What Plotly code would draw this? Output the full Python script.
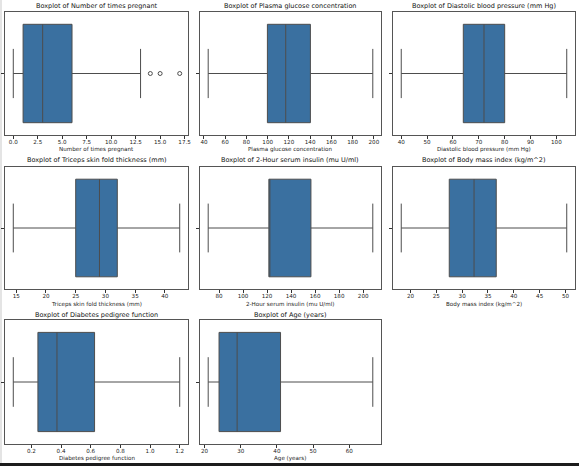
import plotly.graph_objects as go

# ---- data ----
titles = ["Number of times pregnant", "Plasma glucose concentration",
          "Diastolic blood pressure (mm Hg)", "Triceps skin fold thickness (mm)",
          "2-Hour serum insulin (mu U/ml)", "Body mass index (kg/m^2)",
          "Diabetes pedigree function", "Age (years)"]
lower_whisker = [0, 44, 40, 14.5, 71, 18.2, 0.078, 21]
q1_vals = [1, 99.75, 64, 25, 121.5, 27.5, 0.244, 24]
median_vals = [3, 117, 72, 29, 121.5, 32.3, 0.3725, 29]
q3_vals = [6, 140.25, 80, 32, 156.5, 36.6, 0.626, 41]
upper_whisker = [13, 199, 104, 42.5, 208, 50.25, 1.2, 66.5]
pregnant_outliers = [14, 15, 17]
tick_steps = [2.5, 20, 10, 5, 20, 5, 0.2, 10]
tick_formats = [".1f", "d", "d", "d", "d", "d", ".1f", "d"]

W, H = 582, 466
cols_px = [(5, 189), (201, 383), (395, 578)]
rows_px = [(12, 135), (167, 289), (320, 444)]
title_y = [6, 160, 315]
xlabel_y = [149, 304, 458]

FONT = "DejaVu Sans"
box_fill = "#3a70a0"
line_col = "#4d4d4d"

fig = go.Figure()
layout = dict(width=W, height=H, margin=dict(l=0, r=0, t=0, b=0),
              paper_bgcolor="white", plot_bgcolor="white", showlegend=False,
              font=dict(family=FONT, size=6, color="#222"))
annotations = []

for i, name in enumerate(titles):
    r, c = divmod(i, 3)
    x0, x1 = cols_px[c]
    y0, y1 = rows_px[r]
    sfx = "" if i == 0 else str(i + 1)
    xa, ya = "x" + sfx, "y" + sfx

    fig.add_trace(go.Box(
        y=[0], q1=[q1_vals[i]], median=[median_vals[i]], q3=[q3_vals[i]],
        lowerfence=[lower_whisker[i]], upperfence=[upper_whisker[i]],
        orientation="h", width=0.8, whiskerwidth=0.5, boxpoints=False,
        fillcolor=box_fill, line=dict(color=line_col, width=1),
        xaxis=xa, yaxis=ya, hoverinfo="skip"))

    lo = lower_whisker[i]
    hi = upper_whisker[i]
    if i == 0:
        fig.add_trace(go.Scatter(
            x=pregnant_outliers, y=[0] * len(pregnant_outliers), mode="markers",
            marker=dict(symbol="circle-open", size=4, color=line_col,
                        line=dict(width=1, color=line_col)),
            xaxis=xa, yaxis=ya, hoverinfo="skip"))
        hi = max(hi, max(pregnant_outliers))
    pad = (hi - lo) * 0.05

    layout["xaxis" + sfx] = dict(
        domain=[x0 / W, x1 / W], anchor=ya, range=[lo - pad, hi + pad],
        dtick=tick_steps[i], tick0=0, tickformat=tick_formats[i],
        ticks="outside", ticklen=3, tickwidth=0.8, tickcolor="#333",
        ticklabelstandoff=-2,
        showline=True, linecolor="#555", linewidth=1, mirror=True,
        showgrid=False, zeroline=False,
        tickfont=dict(family=FONT, size=5.6, color="#222"))
    layout["yaxis" + sfx] = dict(
        domain=[1 - y1 / H, 1 - y0 / H], anchor=xa, range=[0.5, -0.5],
        tickvals=[0], ticktext=[""], ticks="outside", ticklen=3,
        tickwidth=0.8, tickcolor="#333",
        showline=True, linecolor="#555", linewidth=1, mirror=True,
        showgrid=False, zeroline=False)

    cx = (x0 + x1) / 2 / W
    annotations.append(dict(text="Boxplot of " + name, x=cx, y=1 - title_y[r] / H,
                            xref="paper", yref="paper", showarrow=False,
                            xanchor="center", yanchor="middle",
                            font=dict(family=FONT, size=6.5, color="#111")))
    annotations.append(dict(text=name, x=cx, y=1 - xlabel_y[r] / H,
                            xref="paper", yref="paper", showarrow=False,
                            xanchor="center", yanchor="middle",
                            font=dict(family=FONT, size=5.6, color="#222")))

layout["annotations"] = annotations
layout["shapes"] = [
    dict(type="rect", xref="paper", yref="paper", x0=0, x1=1, y0=0, y1=3 / H,
         fillcolor="#1c1c1c", line=dict(width=0), layer="above"),
    dict(type="rect", xref="paper", yref="paper", x0=0, x1=2 / W, y0=0, y1=1,
         fillcolor="#e4e4e4", line=dict(width=0), layer="below"),
]
fig.update_layout(**layout)
fig.write_html("out.html")
